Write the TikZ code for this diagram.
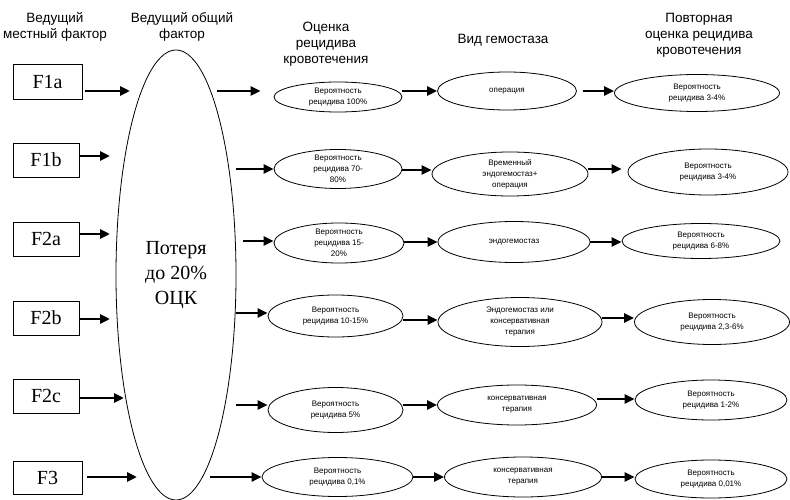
\documentclass[tikz,border=0pt]{standalone}
\usepackage{fontspec}
\setmainfont{Liberation Serif}
\setsansfont{Liberation Sans}
\usetikzlibrary{shapes.geometric,arrows.meta}
\begin{document}
\begin{tikzpicture}[x=1pt,y=-1pt,
  hdr/.style={font=\sffamily\fontsize{13.5}{16}\selectfont, align=center, inner sep=0pt},
  fbox/.style={draw, line width=0.8pt, font=\fontsize{20}{24}\selectfont, inner sep=0pt},
  ov/.style={ellipse, draw, line width=0.8pt, inner sep=0pt, align=center, font=\sffamily\fontsize{8}{11}\selectfont},
  arr/.style={line width=2.8pt, -{Triangle[length=10pt,width=9pt]}}]
\useasboundingbox (0,0) rectangle (790,500);

% headers
\node[hdr] (h1) at (55,27) {Ведущий\\местный фактор};
\node[hdr] (h2) at (182,27) {Ведущий общий\\фактор};
\node[hdr] (h3) at (326,44) {Оценка\\рецидива\\кровотечения};
\node[hdr] (h4) at (503,40) {Вид гемостаза};
\node[hdr] (h5) at (699,35) {Повторная\\оценка рецидива\\кровотечения};

% local factor boxes
\node[fbox, minimum width=69pt, minimum height=35pt] (F1a) at (47.5,81.5) {F1a};
\node[fbox, minimum width=66pt, minimum height=34pt] (F1b) at (46,160) {F1b};
\node[fbox, minimum width=66pt, minimum height=34pt] (F2a) at (46,239) {F2a};
\node[fbox, minimum width=66pt, minimum height=34pt] (F2b) at (46,318) {F2b};
\node[fbox, minimum width=66pt, minimum height=34pt] (F2c) at (46,396) {F2c};
\node[fbox, minimum width=69pt, minimum height=33pt] (F3) at (47.5,477.5) {F3};

% big ellipse
\node[ellipse, draw, line width=0.8pt, inner sep=0pt, minimum width=120pt, minimum height=450pt,
  align=center, font=\fontsize{20}{25}\selectfont] (G) at (176,275) {Потеря\\до 20\%\\ОЦК};

% column 1
\node[ov, minimum width=128pt, minimum height=30pt] (O1) at (338,97) {Вероятность\\рецидива 100\%};
\node[ov, minimum width=128pt, minimum height=37pt] (O2) at (338,169) {Вероятность\\рецидива 70-\\80\%};
\node[ov, minimum width=130pt, minimum height=40pt] (O3) at (339,243) {Вероятность\\рецидива 15-\\20\%};
\node[ov, minimum width=135pt, minimum height=42pt] (O4) at (335.5,316) {Вероятность\\рецидива 10-15\%};
\node[ov, minimum width=135pt, minimum height=45pt] (O5) at (335.5,410) {Вероятность\\рецидива 5\%};
\node[ov, minimum width=151pt, minimum height=39pt] (O6) at (337.5,477) {Вероятность\\рецидива 0,1\%};

% column 2
\node[ov, minimum width=139pt, minimum height=38pt] (V1) at (507,91) {операция};
\node[ov, minimum width=156pt, minimum height=44pt] (V2) at (510,174) {Временный\\эндогемостаз+\\операция};
\node[ov, minimum width=152pt, minimum height=41pt] (V3) at (514,242) {эндогемостаз};
\node[ov, minimum width=164pt, minimum height=49pt] (V4) at (520,322) {Эндогемостаз или\\консервативная\\терапия};
\node[ov, minimum width=159pt, minimum height=40pt] (V5) at (517,405) {консервативная\\терапия};
\node[ov, minimum width=157pt, minimum height=40pt] (V6) at (523,477) {консервативная\\терапия};

% column 3
\node[ov, minimum width=165pt, minimum height=37pt] (P1) at (697,93) {Вероятность\\рецидива 3-4\%};
\node[ov, minimum width=160pt, minimum height=46pt] (P2) at (708,172) {Вероятность\\рецидива 3-4\%};
\node[ov, minimum width=158pt, minimum height=35pt] (P3) at (701,241) {Вероятность\\рецидива 6-8\%};
\node[ov, minimum width=155pt, minimum height=45pt] (P4) at (712,322) {Вероятность\\рецидива 2,3-6\%};
\node[ov, minimum width=152pt, minimum height=40pt] (P5) at (711,400) {Вероятность\\рецидива 1-2\%};
\node[ov, minimum width=152pt, minimum height=38pt] (P6) at (711,479) {Вероятность\\рецидива 0,01\%};

% free arrow ends
\coordinate (b1) at (130,91);
\coordinate (b2) at (110,156);
\coordinate (b3) at (110,234);
\coordinate (b4) at (110,319);
\coordinate (b5) at (124,398);
\coordinate (b6) at (137,477);
\coordinate (g1) at (217,91);
\coordinate (g2) at (236,169);
\coordinate (g3) at (243,241);
\coordinate (g4) at (236,313);
\coordinate (g5) at (236,405);
\coordinate (g6) at (210,477);

% box -> general factor
\draw[arr, shorten <=3pt] (F1a.east |- b1) -- (b1);
\draw[arr] (F1b.east |- b2) -- (b2);
\draw[arr] (F2a.east |- b3) -- (b3);
\draw[arr] (F2b.east |- b4) -- (b4);
\draw[arr] (F2c.east |- b5) -- (b5);
\draw[arr, shorten <=5pt] (F3.east |- b6) -- (b6);

% general factor -> column 1
\draw[arr, shorten >=13pt] (g1) -- (g1 -| O1.west);
\draw[arr] (g2) -- (g2 -| O2.west);
\draw[arr] (g3) -- (g3 -| O3.west);
\draw[arr] (g4) -- (g4 -| O4.west);
\draw[arr] (g5) -- (g5 -| O5.west);
\draw[arr] (g6) -- (g6 -| O6.west);

% column 1 -> column 2
\draw[arr] (O1.east |- 0,91) -- (V1.west |- 0,91);
\draw[arr] (O2.east |- 0,170) -- (V2.west |- 0,170);
\draw[arr] (O3.east |- 0,242) -- (V3.west |- 0,242);
\draw[arr] (O4.east |- 0,320) -- (V4.west |- 0,320);
\draw[arr] (O5.east |- 0,405) -- (V5.west |- 0,405);
\draw[arr] (O6.east |- 0,477) -- (V6.west |- 0,477);

% column 2 -> column 3
\draw[arr, shorten <=6pt] (V1.east |- 0,91) -- (P1.west |- 0,91);
\draw[arr, shorten >=6pt] (V2.east |- 0,169) -- (P2.west |- 0,169);
\draw[arr] (V3.east |- 0,242) -- (P3.west |- 0,242);
\draw[arr] (V4.east |- 0,318) -- (P4.west |- 0,318);
\draw[arr] (V5.east |- 0,399) -- (P5.west |- 0,399);
\draw[arr] (V6.east |- 0,477) -- (P6.west |- 0,477);
\end{tikzpicture}
\end{document}
